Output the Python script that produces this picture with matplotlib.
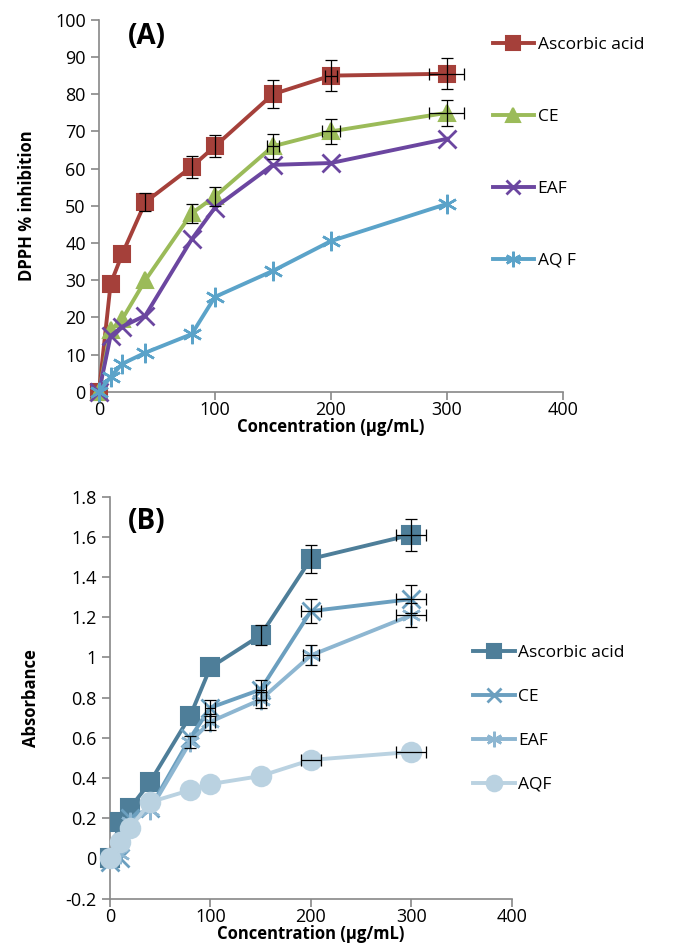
import numpy as np
import matplotlib
matplotlib.use("Agg")
import matplotlib.pyplot as plt

plt.rcParams['font.family'] = ['Open Sans', 'DejaVu Sans']

# concentrations (ug/mL)
conc = [0, 10, 20, 40, 80, 100, 150, 200, 300]

# (A) DPPH % inhibition
dpph_asc = [0, 29, 37, 51, 60.5, 66, 80, 85, 85.5]
dpph_ce = [0, 16.5, 19.5, 30, 48, 52.5, 66, 70, 75]
dpph_eaf = [0, 15, 17.5, 20.5, 41, 49.5, 61, 61.5, 68]
dpph_aqf = [0, 4, 7.5, 10.5, 15.5, 25.5, 32.5, 40.5, 50.5]
dpph_asc_err = [0, 0, 0, 2.5, 3, 3, 3.8, 4.2, 4.2]
dpph_ce_err = [0, 0, 0, 0, 2.5, 2.5, 3.3, 3.3, 3.5]
dpph_asc_xerr = [0, 0, 0, 0, 0, 0, 0, 5, 15]
dpph_ce_xerr = [0, 0, 0, 0, 0, 0, 5, 8, 15]

# (B) Absorbance
abs_asc = [0, 0.18, 0.25, 0.38, 0.71, 0.95, 1.11, 1.49, 1.61]
abs_ce = [-0.02, 0.0, 0.2, 0.25, 0.6, 0.75, 0.84, 1.23, 1.29]
abs_eaf = [0, 0.02, 0.18, 0.24, 0.58, 0.68, 0.79, 1.01, 1.21]
abs_aqf = [0, 0.08, 0.15, 0.28, 0.34, 0.37, 0.41, 0.49, 0.53]
abs_asc_err = [0, 0, 0, 0, 0, 0, 0.05, 0.07, 0.08]
abs_ce_err = [0, 0, 0, 0, 0, 0.04, 0.05, 0.06, 0.07]
abs_eaf_err = [0, 0, 0, 0, 0.03, 0.04, 0.04, 0.05, 0.06]
abs_asc_xerr = [0, 0, 0, 0, 0, 0, 0, 0, 15]
abs_ce_xerr = [0, 0, 0, 0, 0, 5, 5, 10, 15]
abs_eaf_xerr = [0, 0, 0, 0, 0, 5, 5, 8, 15]
abs_aqf_xerr = [0, 0, 0, 0, 0, 0, 0, 10, 15]

fig = plt.figure(figsize=(6.78, 9.44), dpi=100)
axA = fig.add_axes([0.146, 0.585, 0.684, 0.394])
axB = fig.add_axes([0.162, 0.048, 0.593, 0.426])

def style(ax):
    for s in ['top', 'right']:
        ax.spines[s].set_visible(False)
    for s in ['left', 'bottom']:
        ax.spines[s].set_color('#888888')
        ax.spines[s].set_linewidth(1.2)
    ax.tick_params(colors='#888888', labelcolor='black', labelsize=13, length=6, width=1.2)
    ax.tick_params(axis='x', pad=1)
    ax.set_xlabel('Concentration (µg/mL)', fontsize=12, fontweight='bold', labelpad=-1)

def errs(ax, y, yerr, xerr):
    x = np.array(conc, dtype=float)
    y = np.array(y, dtype=float)
    if yerr is not None:
        e = np.array(yerr, dtype=float)
        m = e > 0
        ax.errorbar(x[m], y[m], yerr=e[m], fmt='none', ecolor='black',
                    elinewidth=0.9, capsize=4, capthick=0.9, zorder=4, clip_on=False)
    if xerr is not None:
        e = np.array(xerr, dtype=float)
        m = e > 0
        ax.errorbar(x[m], y[m], xerr=e[m], fmt='none', ecolor='black',
                    elinewidth=0.9, capsize=4, capthick=0.9, zorder=4, clip_on=False)

def series(ax, y, color, marker, label, ms, yerr=None, xerr=None, mew=1.5):
    ax.plot(conc, y, color=color, marker=marker, markersize=ms, lw=2.8,
            markeredgewidth=mew, label=label, clip_on=False, zorder=3)
    errs(ax, y, yerr, xerr)

# (A)
series(axA, dpph_asc, '#A5403A', 's', 'Ascorbic acid', 12, dpph_asc_err, dpph_asc_xerr)
series(axA, dpph_ce, '#9BBB59', '^', 'CE', 12, dpph_ce_err, dpph_ce_xerr)
series(axA, dpph_eaf, '#6B46A0', 'x', 'EAF', 13, mew=2)
series(axA, dpph_aqf, '#5BA3C9', (6, 2, 0), 'AQ F', 14, mew=1.8)
axA.set_xlim(0, 400)
axA.set_ylim(0, 100)
axA.set_xticks([0, 100, 200, 300, 400])
axA.set_yticks(np.arange(0, 101, 10))
style(axA)
axA.set_ylabel('DPPH % inhibition', fontsize=12, fontweight='bold', labelpad=14)
axA.text(0.062, 0.995, '(A)', transform=axA.transAxes, fontsize=20, fontweight='bold', va='top')
axA.legend(loc='upper left', bbox_to_anchor=(0.815, 0.995), frameon=False, fontsize=12.5,
           handlelength=2.4, labelspacing=3.2, handletextpad=0.2, markerscale=0.8)

# (B)
series(axB, abs_asc, '#4E7E99', 's', 'Ascorbic acid', 13, abs_asc_err, abs_asc_xerr)
series(axB, abs_ce, '#6B9FBF', 'x', 'CE', 13, abs_ce_err, abs_ce_xerr, mew=2)
series(axB, abs_eaf, '#8DB6D1', (6, 2, 0), 'EAF', 14, abs_eaf_err, abs_eaf_xerr, mew=1.8)
series(axB, abs_aqf, '#BAD2E1', 'o', 'AQF', 14, None, abs_aqf_xerr)
axB.set_xlim(0, 400)
axB.set_ylim(-0.2, 1.8)
axB.set_xticks([0, 100, 200, 300, 400])
axB.set_yticks(np.round(np.arange(-0.2, 1.81, 0.2), 1))
axB.set_yticklabels(['-0.2', '0', '0.2', '0.4', '0.6', '0.8', '1', '1.2', '1.4', '1.6', '1.8'])
style(axB)
axB.set_ylabel('Absorbance', fontsize=12, fontweight='bold', labelpad=18)
axB.text(0.045, 0.975, '(B)', transform=axB.transAxes, fontsize=20, fontweight='bold', va='top')
axB.legend(loc='upper left', bbox_to_anchor=(0.865, 0.67), frameon=False, fontsize=12.5,
           handlelength=2.4, labelspacing=1.6, handletextpad=0.2, markerscale=0.8)

fig.savefig('out.png', dpi=100)
